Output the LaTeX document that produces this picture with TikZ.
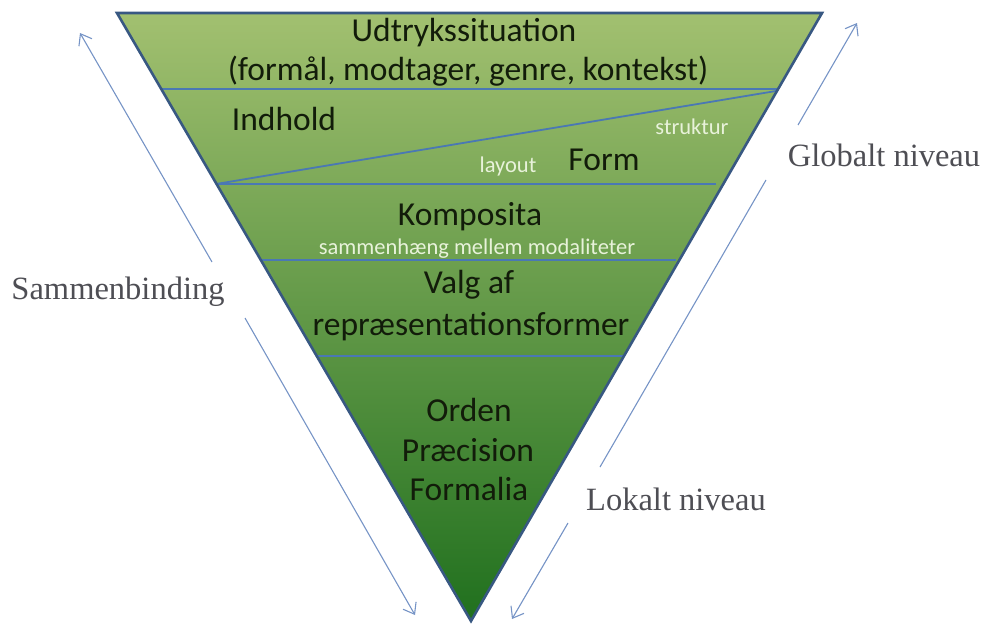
\documentclass[tikz,border=0pt]{standalone}
\usepackage{fontspec}
\setmainfont{Carlito}
\newfontfamily\sidefont{Liberation Serif}
\usetikzlibrary{arrows.meta}
\definecolor{gtop}{RGB}{162,192,112}
\definecolor{gmid}{RGB}{104,158,66}
\definecolor{gbot}{RGB}{32,112,30}
\definecolor{edgeblue}{RGB}{56,88,130}
\definecolor{bandline}{RGB}{74,120,180}
\definecolor{arrowblue}{RGB}{118,148,198}
\definecolor{darktext}{RGB}{18,28,10}
\definecolor{sidegray}{RGB}{78,78,84}
\definecolor{paletext}{RGB}{232,242,218}
\tikzset{
  bigtext/.style={text=darktext, font=\fontsize{33.5}{36}\selectfont, inner sep=0pt, anchor=center},
  smalltext/.style={text=paletext, font=\fontsize{22.5}{24}\selectfont, inner sep=0pt, anchor=center},
  sidetext/.style={text=sidegray, font=\sidefont\fontsize{32.5}{35}\selectfont, inner sep=0pt, anchor=center},
  band/.style={draw=bandline, line width=1.8pt},
  sidearrow/.style={draw=arrowblue, line width=1.1pt},
  tip/.style={-{Straight Barb[length=10pt,width=15pt,line width=1.1pt]}}
}
\begin{document}
\begin{tikzpicture}[x=1pt,y=-1pt]
\useasboundingbox (0,0) rectangle (983,627);
% triangle corners
\coordinate (tl) at (117,13);
\coordinate (tr) at (822,13);
\coordinate (ap) at (471,621);
\shade[top color=gtop, middle color=gmid, bottom color=gbot] (tl) -- (tr) -- (ap) -- cycle;
% band lines
\coordinate (l1a) at (162,89);  \coordinate (l1b) at (777,89);
\coordinate (dga) at (216,184); \coordinate (dgb) at (776,91);
\coordinate (l2a) at (216,184); \coordinate (l2b) at (716,184);
\coordinate (l3a) at (262,260); \coordinate (l3b) at (676,260);
\coordinate (l4a) at (316,356); \coordinate (l4b) at (624,356);
\draw[band] (l1a) -- (l1b);
\draw[band] (dga) -- (dgb);
\draw[band] (l2a) -- (l2b);
\draw[band] (l3a) -- (l3b);
\draw[band] (l4a) -- (l4b);
\draw[draw=edgeblue, line width=2.6pt, line join=miter] (tl) -- (tr) -- (ap) -- cycle;
% texts
\node[bigtext] (udt) at (464,33) {Udtrykssituation};
\node[bigtext] (fml) at (468,71) {(formål, modtager, genre, kontekst)};
\node[bigtext] (ind) at (284,119) {Indhold};
\node[smalltext] (str) at (692,127) {struktur};
\node[smalltext] (lay) at (508,166) {layout};
\node[bigtext] (frm) at (604,160) {Form};
\node[bigtext] (kmp) at (470,217) {Komposita};
\node[smalltext] (sam) at (477,249) {sammenhæng mellem modaliteter};
\node[bigtext] (val) at (469,285) {Valg af};
\node[bigtext] (rep) at (471,327) {repræsentationsformer};
\node[bigtext] (ord) at (469,410) {Orden};
\node[bigtext] (prc) at (468,450) {Præcision};
\node[bigtext] (fma) at (469,489) {Formalia};
% side labels
\node[sidetext] (sb) at (118,292) {Sammenbinding};
\node[sidetext] (gn) at (884,155) {Globalt niveau};
\node[sidetext] (ln) at (676,499) {Lokalt niveau};
% left arrows
\coordinate (la1) at (80,33);
\coordinate (la2) at (212,262);
\coordinate (la3) at (245,318);
\coordinate (la4) at (415,615);
\draw[sidearrow, tip] (la2) -- (la1);
\draw[sidearrow, tip] (la3) -- (la4);
% right arrows
\coordinate (ra1) at (857,23);
\coordinate (ra2) at (798,125);
\coordinate (ra3) at (766,180);
\coordinate (ra4) at (600,467);
\coordinate (ra5) at (568,523);
\coordinate (ra6) at (512,619);
\draw[sidearrow, tip] (ra2) -- (ra1);
\draw[sidearrow] (ra3) -- (ra4);
\draw[sidearrow, tip] (ra5) -- (ra6);
\end{tikzpicture}
\end{document}
